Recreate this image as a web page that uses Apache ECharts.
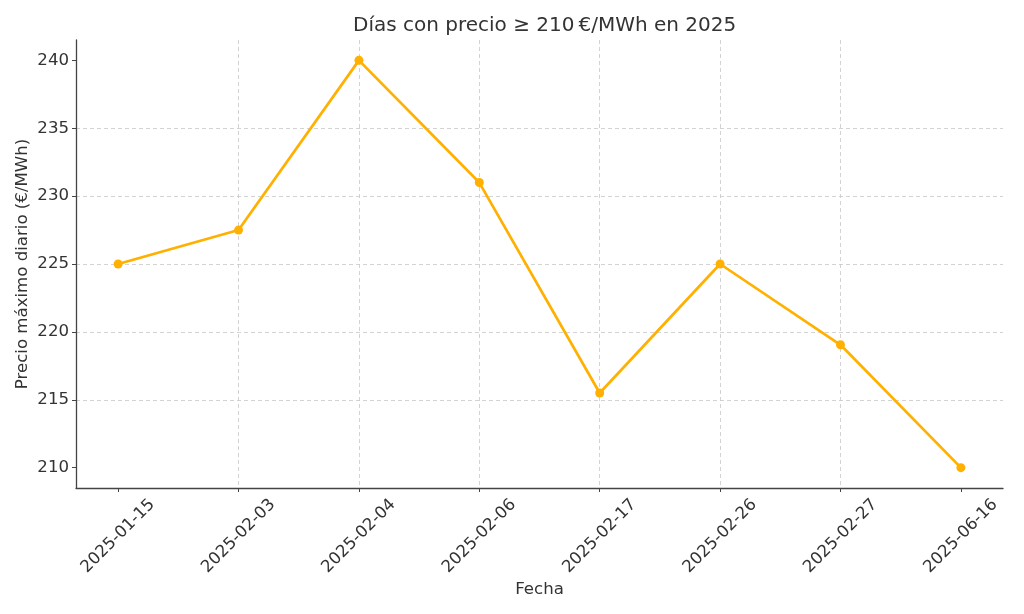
<!DOCTYPE html>
<html>
<head>
<meta charset="utf-8">
<script src="https://cdn.jsdelivr.net/npm/echarts@6/dist/echarts.min.js"></script>
<style>html,body{margin:0;padding:0;background:#fff}#c{width:1024px;height:614px}</style>
</head>
<body>
<div id="c"></div>
<script>
const categories = ['2025-01-15','2025-02-03','2025-02-04','2025-02-06','2025-02-17','2025-02-26','2025-02-27','2025-06-16'];
const prices = [225, 227.5, 240, 231, 215.5, 225, 219.05, 210];
const yTicks = [210, 215, 220, 225, 230, 235, 240];
const xTicks = categories.map((c, i) => i);

const FONT = 'DejaVu Sans';
const chart = echarts.init(document.getElementById('c'), null, {renderer: 'canvas'});
chart.setOption({
  animation: false,
  backgroundColor: '#fff',
  title: {
    text: 'Días con precio ≥ 210\u202F€/MWh en 2025',
    left: 348, top: 11,
    textStyle: {fontFamily: FONT, fontSize: 20, fontWeight: 'normal', color: '#333'}
  },
  grid: {left: 76, right: 21, top: 40, bottom: 126, containLabel: false},
  xAxis: {
    type: 'value', min: -0.35, max: 7.35,
    name: 'Fecha', nameLocation: 'middle', nameGap: 93, nameMoveOverlap: false,
    nameTextStyle: {fontFamily: FONT, fontSize: 16.6, color: '#333'},
    axisLine: {show: true, onZero: false, lineStyle: {color: '#444', width: 1.3}},
    axisTick: {show: true, customValues: xTicks, length: 4, lineStyle: {color: '#444'}},
    axisLabel: {
      customValues: xTicks, rotate: 45, align: 'center', verticalAlign: 'middle', margin: 48,
      fontFamily: FONT, fontSize: 16.6, color: '#333',
      formatter: v => categories[Math.round(v)]
    },
    splitLine: {show: true, showMinLine: false, showMaxLine: false, lineStyle: {color: '#c8c8c8', type: [4, 3], width: 0.8}}
  },
  yAxis: {
    type: 'value', min: 208.5, max: 241.5,
    name: 'Precio máximo diario (€/MWh)', nameLocation: 'middle', nameGap: 45, nameMoveOverlap: false,
    nameTextStyle: {fontFamily: FONT, fontSize: 16.6, color: '#333'},
    axisLine: {show: true, onZero: false, lineStyle: {color: '#444', width: 1.3}},
    axisTick: {show: true, customValues: yTicks, length: 4, lineStyle: {color: '#444'}},
    axisLabel: {customValues: yTicks, fontFamily: FONT, fontSize: 16.6, color: '#333', margin: 7},
    splitLine: {show: true, showMinLine: false, showMaxLine: false, lineStyle: {color: '#c8c8c8', type: [4, 3], width: 0.8}}
  },
  series: [{
    type: 'line',
    data: prices.map((p, i) => [i, p]),
    symbol: 'circle', symbolSize: 9,
    itemStyle: {color: '#FFB000'},
    lineStyle: {color: '#FFB000', width: 2.7}
  }]
});
</script>
</body>
</html>
